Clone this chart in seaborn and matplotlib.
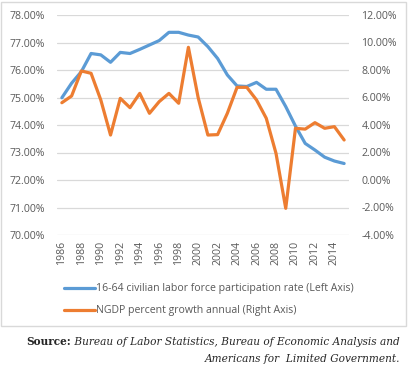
import matplotlib
matplotlib.use('Agg')
import matplotlib.pyplot as plt
import matplotlib.patches as mpatches
import seaborn as sns
import pandas as pd

# data
years = list(range(1986, 2016))
lfpr = [74.99, 75.52, 75.94, 76.60, 76.55, 76.28, 76.64, 76.60, 76.75, 76.91,
        77.07, 77.37, 77.37, 77.27, 77.20, 76.85, 76.42, 75.82, 75.42, 75.40,
        75.55, 75.30, 75.30, 74.67, 73.96, 73.33, 73.09, 72.83, 72.69, 72.60]
ngdp = [5.62, 6.11, 7.93, 7.76, 5.82, 3.27, 5.94, 5.26, 6.30, 4.85,
        5.70, 6.30, 5.58, 9.65, 6.00, 3.27, 3.30, 4.85, 6.74, 6.74,
        5.82, 4.49, 1.94, -2.06, 3.76, 3.70, 4.17, 3.76, 3.88, 2.91]
year_ticks = list(range(1986, 2015, 2))
left_ticks = [70, 71, 72, 73, 74, 75, 76, 77, 78]
right_ticks = [-4, -2, 0, 2, 4, 6, 8, 10, 12]

df = pd.DataFrame({'year': years, 'lfpr': lfpr, 'ngdp': ngdp})

sns.set_style('white')
plt.rcParams['font.family'] = ['Open Sans', 'DejaVu Sans']

blue = '#5B9BD5'
orange = '#ED7D31'
grey_text = '#595959'
grid_col = '#D9D9D9'

fig = plt.figure(figsize=(4.08, 3.83), dpi=100)
ax = fig.add_axes([57 / 408, 1 - 235 / 383, (349 - 57) / 408, 220 / 383])
ax2 = ax.twinx()

sns.lineplot(data=df, x='year', y='lfpr', ax=ax, color=blue, linewidth=2.3,
             label='16-64 civilian labor force participation rate (Left Axis)',
             legend=False)
sns.lineplot(data=df, x='year', y='ngdp', ax=ax2, color=orange, linewidth=2.3,
             label='NGDP percent growth annual (Right Axis)', legend=False)

ax.set_xlim(1985.5, 2015.5)
ax.set_ylim(70, 78)
ax2.set_ylim(-4, 12)
ax.set_yticks(left_ticks)
ax.set_yticklabels([f'{v:.2f}%' for v in left_ticks])
ax2.set_yticks(right_ticks)
ax2.set_yticklabels([f'{v:.2f}%' for v in right_ticks])
ax.set_xticks(year_ticks)
ax.set_xticklabels([str(y) for y in year_ticks], rotation=90)

ax.grid(True, axis='y', color=grid_col, linewidth=0.9)
ax.set_axisbelow(True)
ax.set_xlabel(None)
ax.set_ylabel(None)
ax2.set_ylabel(None)
for a in (ax, ax2):
    for s in a.spines.values():
        s.set_visible(False)
    a.tick_params(length=0, labelsize=7.6, colors=grey_text)
ax.tick_params(axis='y', pad=9)
ax2.tick_params(axis='y', pad=9)
ax.tick_params(axis='x', pad=4)

# outer chart border
fig.patches.append(mpatches.Rectangle((1 / 408, 1 - 326 / 383), 405 / 408, 324 / 383,
                                      transform=fig.transFigure, fill=False,
                                      edgecolor=grid_col, linewidth=1))

h1, l1 = ax.get_legend_handles_labels()
h2, l2 = ax2.get_legend_handles_labels()
fig.legend(h1 + h2, l1 + l2, loc='upper left', bbox_to_anchor=(60 / 408, 1 - 279 / 383),
           frameon=False, fontsize=7.6, labelcolor=grey_text, handlelength=2.9,
           handletextpad=0.1, labelspacing=1.05, borderaxespad=0)

# source note
serif = ['DejaVu Serif', 'Liberation Serif']
t1 = fig.text(400 / 408, 1 - 345 / 383,
              ' Bureau of Labor Statistics, Bureau of Economic Analysis and',
              ha='right', va='baseline', fontsize=7.6, style='italic', family=serif)
fig.text(400 / 408, 1 - 362 / 383, 'Americans for  Limited Government.',
         ha='right', va='baseline', fontsize=7.6, style='italic', family=serif)
fig.canvas.draw()
bb = t1.get_window_extent()
fig.text(bb.x0 / fig.bbox.width, 1 - 345 / 383, 'Source:', ha='right', va='baseline',
         fontsize=7.6, weight='bold', family=serif)

fig.savefig('out.png', dpi=100)
